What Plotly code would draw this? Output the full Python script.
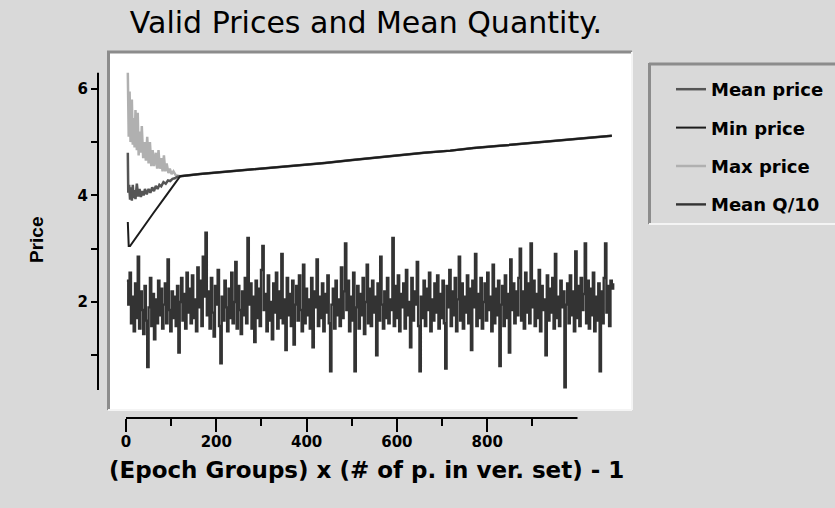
import plotly.graph_objects as go

BG = "#d9d9d9"
FONT = "DejaVu Sans"

# ---- data ----
max_x = [4, 6, 8, 10, 13, 15, 17, 19, 21, 24, 26, 28, 31, 33, 35, 38, 41, 44, 47, 50,
         53, 56, 59, 62, 66, 69, 72, 75, 78, 81, 84, 87, 90, 94, 97, 101, 105, 110, 115, 120]
max_y = [6.30, 5.10, 5.95, 5.00, 5.80, 4.95, 5.45, 4.90, 5.60, 4.85, 5.55, 4.75, 5.20, 4.80,
         5.30, 4.70, 5.00, 4.65, 5.10, 4.60, 5.00, 4.55, 4.85, 4.55, 4.80, 4.50, 4.85, 4.50,
         4.70, 4.45, 4.75, 4.45, 4.60, 4.42, 4.50, 4.40, 4.45, 4.38, 4.37, 4.36]

mean_x = [4, 5, 7, 9, 11, 13, 15, 17, 19, 21, 24, 27, 30, 33, 36, 39, 42, 46, 50, 54,
          58, 62, 66, 70, 74, 78, 83, 88, 93, 98, 103, 108, 114, 120]
mean_y = [4.80, 4.05, 4.20, 3.92, 4.15, 3.90, 4.20, 3.95, 4.10, 3.93, 4.22, 3.98, 4.12, 3.97,
          4.08, 4.00, 4.12, 4.02, 4.12, 4.05, 4.15, 4.08, 4.18, 4.12, 4.20, 4.17, 4.25, 4.22,
          4.28, 4.27, 4.31, 4.32, 4.35, 4.36]

min_x = [4, 6, 9, 30, 60, 90, 120]
min_y = [3.50, 3.05, 3.05, 3.31, 3.66, 4.01, 4.36]

trend_x = [164, 220, 275, 330, 385, 440, 496, 550, 607, 660, 718, 770, 828, 880, 939, 1000, 1040, 1076]
trend_y = [4.40, 4.44, 4.48, 4.52, 4.56, 4.61, 4.66, 4.71, 4.75, 4.80, 4.84, 4.89, 4.93, 4.97,
           5.01, 5.06, 5.09, 5.12]

q_x = list(range(2, 1080, 3))
q_y = [
    2.40, 1.95, 2.55, 1.60, 2.10, 1.45, 2.35, 1.70, 2.85, 1.50, 2.20, 1.85,
    1.40, 2.30, 1.65, 0.78, 1.90, 2.45, 1.55, 2.15, 1.30, 2.05, 1.60, 2.40,
    1.75, 2.25, 1.50, 1.95, 2.35, 1.60, 2.80, 1.85, 1.45, 2.20, 1.70, 2.10,
    1.55, 2.30, 1.05, 2.00, 2.45, 1.65, 2.15, 1.50, 2.55, 1.80, 2.25, 1.60,
    2.50, 1.70, 2.05, 1.45, 2.65, 1.90, 2.40, 1.55, 2.85, 2.10, 3.30, 1.75,
    2.20, 1.50, 2.45, 1.80, 1.35, 2.30, 1.95, 2.60, 1.55, 0.85, 2.10, 1.65,
    2.40, 1.90, 1.45, 2.25, 1.70, 2.55, 1.60, 2.00, 2.75, 1.50, 2.30, 1.85,
    1.40, 2.20, 1.75, 2.45, 1.60, 3.20, 1.95, 2.35, 1.50, 2.10, 1.25, 2.40,
    1.70, 2.25, 1.55, 2.60, 3.05, 1.85, 2.15, 1.45, 2.50, 1.65, 2.00, 1.30,
    2.35, 1.80, 2.55, 1.50, 2.20, 1.70, 2.90, 1.60, 2.05, 1.10, 2.45, 1.75,
    2.15, 1.55, 2.40, 1.20, 1.95, 2.30, 1.65, 2.50, 1.85, 1.45, 2.70, 1.60,
    2.25, 1.75, 2.05, 1.50, 2.45, 1.15, 2.20, 1.90, 2.80, 1.55, 2.10, 1.70,
    2.35, 1.45, 2.15, 1.80, 2.50, 1.60, 0.70, 1.95, 2.25, 1.50, 2.40, 1.75,
    2.05, 1.55, 2.65, 1.70, 2.20, 3.10, 1.85, 2.40, 1.45, 2.10, 1.65, 2.55,
    0.70, 1.90, 2.30, 1.50, 2.15, 1.75, 2.45, 1.40, 2.00, 2.70, 1.60, 2.25,
    1.55, 2.40, 1.80, 2.10, 1.00, 2.35, 1.65, 2.85, 1.95, 1.50, 2.20, 1.70,
    2.45, 1.60, 2.05, 1.85, 3.20, 1.55, 2.30, 1.70, 2.50, 1.45, 2.15, 1.90,
    2.35, 1.50, 2.60, 1.75, 2.00, 1.15, 2.45, 1.65, 2.20, 1.95, 2.75, 1.55,
    0.70, 2.10, 1.70, 2.40, 1.55, 2.25, 1.85, 2.55, 1.45, 2.05, 1.65, 2.35,
    1.80, 2.50, 1.50, 2.15, 1.70, 2.40, 1.60, 0.75, 2.30, 1.90, 2.60, 1.55,
    2.20, 1.75, 2.45, 1.45, 2.05, 2.85, 1.65, 2.35, 1.50, 2.10, 1.80, 2.50,
    1.60, 2.25, 1.10, 2.40, 1.90, 2.90, 1.55, 2.15, 1.70, 2.45, 1.50, 2.00,
    2.35, 1.65, 2.55, 1.85, 2.10, 1.45, 2.70, 1.60, 2.25, 1.75, 2.40, 0.80,
    1.95, 2.30, 1.55, 2.50, 1.70, 2.15, 1.05, 2.80, 1.85, 2.35, 1.60, 2.20,
    1.75, 2.45, 3.00, 1.65, 2.20, 1.50, 2.55, 1.80, 2.35, 1.60, 3.10, 1.90,
    2.40, 1.55, 2.15, 1.70, 2.60, 1.45, 2.30, 1.85, 2.05, 1.00, 2.50, 1.65,
    2.25, 1.80, 2.45, 1.50, 2.90, 1.70, 2.10, 1.55, 2.40, 1.90, 2.20, 0.40,
    1.95, 2.35, 1.60, 2.50, 1.75, 2.20, 1.45, 2.95, 1.70, 2.30, 1.55, 2.45,
    1.85, 2.15, 3.10, 1.60, 2.40, 1.50, 2.25, 1.75, 2.55, 1.45, 2.10, 1.65,
    2.35, 0.70, 2.20, 1.60, 2.45, 3.10, 1.80, 2.30, 1.55, 2.40, 2.25, 2.35,
]

x_ticks = [0, 200, 400, 600, 800]
x_minor = [100, 300, 500, 700, 900]
y_ticks = [1, 2, 3, 4, 5, 6]
y_ticktext = ["", "2", "", "4", "", "6"]
x_axis_span = [0, 1000]
y_axis_span = [0.35, 6.3]

# ---- figure ----
fig = go.Figure()
fig.add_trace(go.Scatter(x=max_x + trend_x, y=max_y + trend_y, mode="lines", name="Max price",
                         line=dict(color="#b0b0b0", width=2.5), legendrank=3, legendgroup="c"))
fig.add_trace(go.Scatter(x=mean_x + trend_x, y=mean_y + trend_y, mode="lines", name="Mean price",
                         line=dict(color="#555555", width=2.5), legendrank=1, legendgroup="a"))
fig.add_trace(go.Scatter(x=min_x + trend_x, y=min_y + trend_y, mode="lines", name="Min price",
                         line=dict(color="#1c1c1c", width=2), legendrank=2, legendgroup="b"))
fig.add_trace(go.Scatter(x=q_x, y=q_y, mode="lines", name="Mean Q/10", line_shape="hv",
                         line=dict(color="#333333", width=2.4), legendrank=4, legendgroup="d"))

W, H = 835, 508
L, R, T, B = 98, 631, 53, 418          # paper area in pixels
pw, ph = R - L, B - T

def px(xp):
    return (xp - L) / pw

def py(yp):
    return (B - yp) / ph

shapes = [
    dict(type="line", xref="x", yref="paper", x0=x_axis_span[0], x1=x_axis_span[1], y0=0, y1=0,
         line=dict(color="black", width=2)),
    dict(type="line", xref="paper", yref="y", x0=0, x1=0, y0=y_axis_span[0], y1=y_axis_span[1],
         line=dict(color="black", width=2)),
    dict(type="line", xref="paper", yref="paper", x0=px(107), x1=px(632), y0=py(52), y1=py(52),
         line=dict(color="#8c8c8c", width=3)),
    dict(type="line", xref="paper", yref="paper", x0=px(108.5), x1=px(108.5), y0=py(51), y1=py(410),
         line=dict(color="#8c8c8c", width=3)),
    dict(type="line", xref="paper", yref="paper", x0=px(108), x1=px(632), y0=py(410), y1=py(410),
         line=dict(color="#f4f4f4", width=2)),
    dict(type="line", xref="paper", yref="paper", x0=px(632), x1=px(632), y0=py(52), y1=py(410),
         line=dict(color="#f4f4f4", width=2)),
    dict(type="line", xref="paper", yref="paper", x0=px(649), x1=px(840), y0=py(64), y1=py(64),
         line=dict(color="#8c8c8c", width=3)),
    dict(type="line", xref="paper", yref="paper", x0=px(649.5), x1=px(649.5), y0=py(63), y1=py(224),
         line=dict(color="#8c8c8c", width=3)),
    dict(type="line", xref="paper", yref="paper", x0=px(649), x1=px(840), y0=py(224), y1=py(224),
         line=dict(color="#f4f4f4", width=2)),
]

tickfont = dict(family=FONT, size=15, color="black", weight="bold")

fig.update_layout(
    width=W, height=H,
    margin=dict(l=L, r=W - R, t=T, b=H - B, pad=0, autoexpand=False),
    paper_bgcolor=BG, plot_bgcolor="white",
    showlegend=True,
    title=dict(text="Valid Prices and Mean Quantity.", x=366 / W, xanchor="center",
               y=1 - 22 / H, yanchor="middle", xref="container", yref="container",
               font=dict(family=FONT, size=30, color="black")),
    xaxis=dict(domain=[px(110), 1], range=[(110 - 126) / 0.4515, (631 - 126) / 0.4515],
               anchor="free", position=0, showline=False, showgrid=False, zeroline=False,
               ticks="outside", ticklen=13, tickwidth=2, tickcolor="black",
               tickmode="array", tickvals=x_ticks, ticktext=[str(v) for v in x_ticks],
               minor=dict(tickmode="array", tickvals=x_minor, ticks="outside", ticklen=7,
                          tickwidth=2, tickcolor="black", showgrid=False),
               ticklabelstandoff=-3,
               tickfont=tickfont, automargin=False),
    yaxis=dict(domain=[py(409), 1], range=[2 - (409 - 302) / 53.3, 2 + (302 - 53) / 53.3],
               anchor="free", position=0, showline=False, showgrid=False, zeroline=False,
               ticks="outside", ticklen=7, tickwidth=2, tickcolor="black",
               tickmode="array", tickvals=y_ticks, ticktext=y_ticktext,
               tickfont=tickfont, automargin=False),
    legend=dict(x=px(671), y=py(71), xanchor="left", yanchor="top",
                bgcolor="rgba(0,0,0,0)", borderwidth=0, tracegroupgap=12,
                font=dict(family=FONT, size=18, color="black", weight="bold")),
    shapes=shapes,
    annotations=[
        dict(text="Price", xref="paper", yref="paper", x=px(36), y=py(240), showarrow=False,
             textangle=-90, xanchor="center", yanchor="middle",
             font=dict(family="Liberation Sans", size=19, color="black", weight="bold")),
        dict(text="(Epoch Groups) x (# of p. in ver. set) - 1", xref="paper", yref="paper",
             x=px(366), y=py(470), showarrow=False, xanchor="center", yanchor="middle",
             font=dict(family=FONT, size=23, color="black", weight="bold")),
    ],
)

fig.write_html("out.html")
